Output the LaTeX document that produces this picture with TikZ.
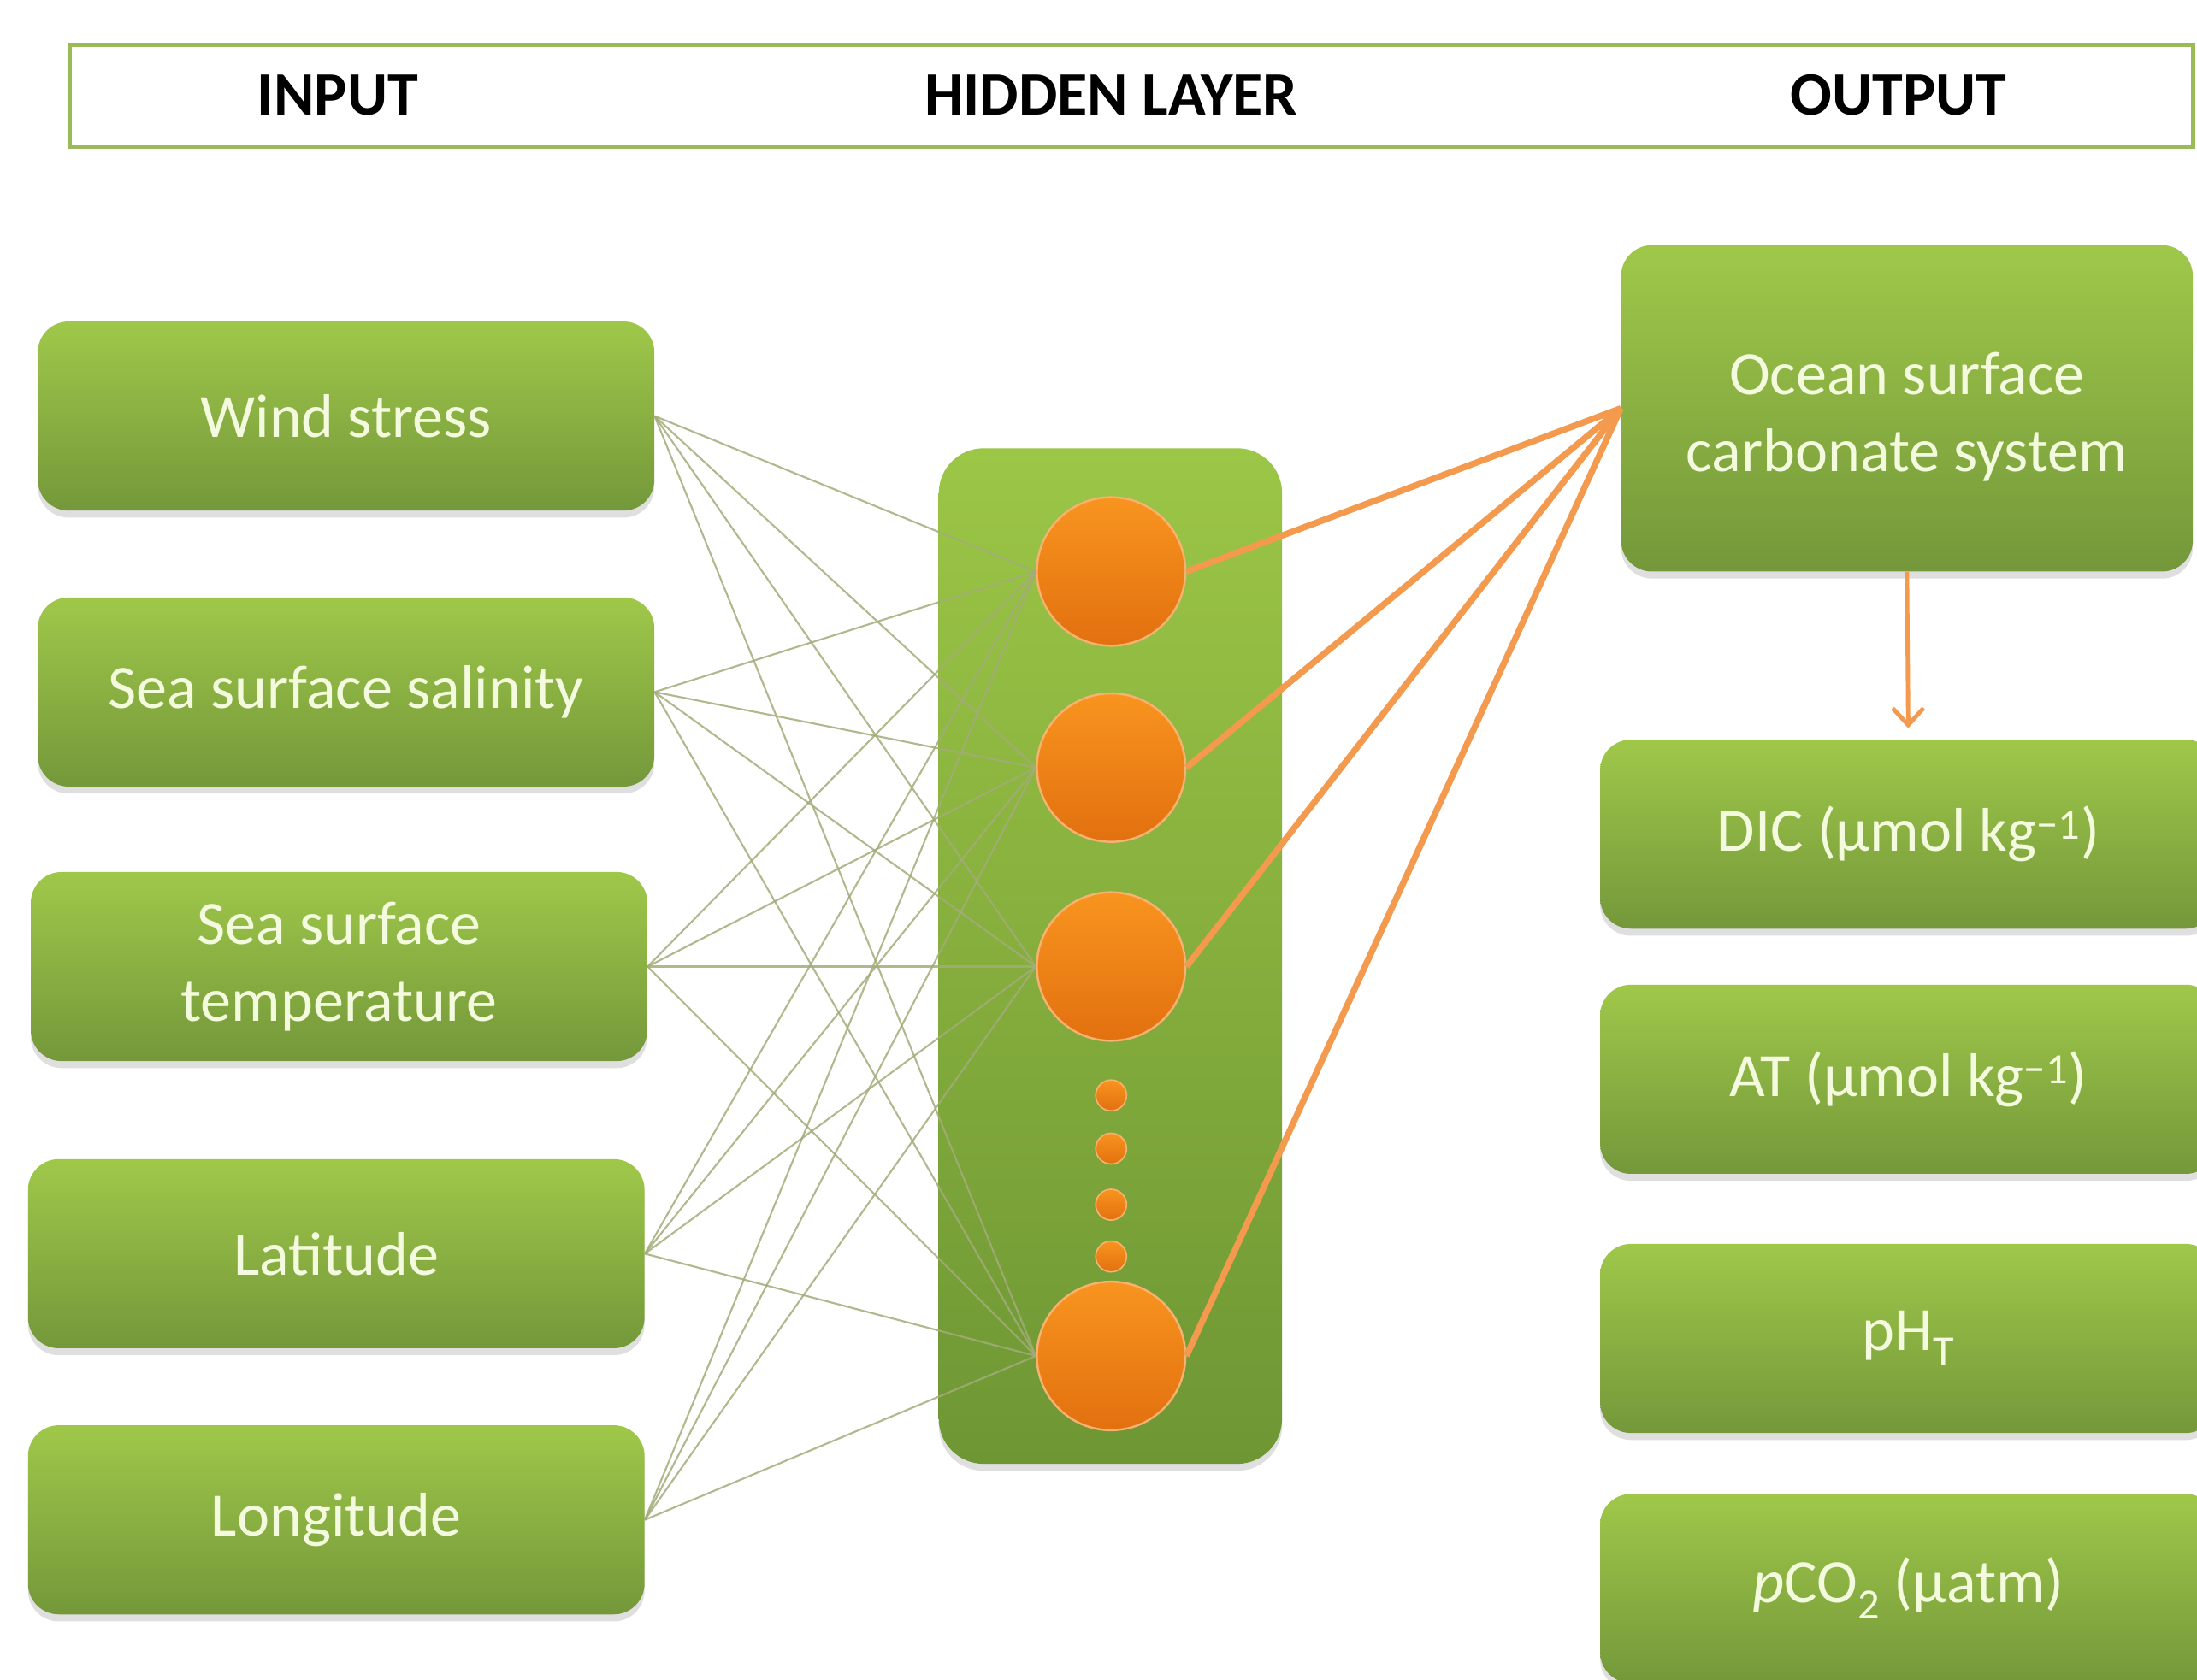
\documentclass[tikz,border=0pt]{standalone}
\usepackage{fontspec}
\setmainfont{Carlito}
\usepackage{tikz}
\usetikzlibrary{shadows,arrows.meta}
\definecolor{gtop}{HTML}{9FC84A}
\definecolor{gbot}{HTML}{74983A}
\definecolor{htop}{HTML}{9CC646}
\definecolor{hbot}{HTML}{6E9634}
\definecolor{otop}{HTML}{F8941F}
\definecolor{obot}{HTML}{E2700F}
\definecolor{oedge}{HTML}{F7B170}
\definecolor{oline}{HTML}{F39A4E}
\definecolor{lnk}{HTML}{A3AC7A}
\definecolor{txt}{HTML}{F3FADE}
\definecolor{hdrc}{HTML}{9BBB59}
\newcommand{\bigf}{\fontsize{44}{55}\selectfont}
\tikzstyle{box}=[rounded corners = 22pt, top color = gtop, bottom color = gbot, text = txt, font = \bigf, align = center, inner sep = 0pt, drop shadow = {shadow xshift = 0pt, shadow yshift = -5pt, opacity = .25}]
\tikzstyle{inbox}=[box, minimum width = 440pt, minimum height = 135pt]
\tikzstyle{outbox}=[box, minimum width = 440pt, minimum height = 135pt]
\tikzstyle{neuron}=[circle, top color = otop, bottom color = obot, draw = oedge, line width = 1.5pt, minimum size = 106pt, inner sep = 0pt]
\tikzstyle{dot}=[neuron, line width = 1pt, minimum size = 22pt]
\tikzstyle{link}=[draw = lnk, line width = 1.3pt, opacity = .85]
\tikzstyle{wire}=[draw = oline, line width = 4.5pt]

\begin{document}
\begin{tikzpicture}[x = 1pt, y = -1pt]
  \fill[white] (0,0) rectangle (1568,1199.3);
  \useasboundingbox (0,0) rectangle (1568,1199.3);
  % header
  \node[draw = hdrc, line width = 3pt, minimum width = 1515pt, minimum height = 73pt] (hdr) at (807.5,68.5) {};
  \node[font = \bigf\bfseries] (tin) at (241,68) {INPUT};
  \node[font = \bigf\bfseries] (thid) at (793,68) {HIDDEN LAYER};
  \node[font = \bigf\bfseries] (tout) at (1355,68) {OUTPUT};
  % inputs
  \node[inbox] (in1) at (247,297) {Wind stress};
  \node[inbox] (in2) at (247,494) {Sea surface salinity};
  \node[inbox] (in3) at (242,690) {Sea surface\\temperature};
  \node[inbox] (in4) at (240,895) {Latitude};
  \node[inbox] (in5) at (240,1085) {Longitude};
  % hidden layer
  \node[box, rounded corners = 32pt, top color = htop, bottom color = hbot, minimum width = 245pt, minimum height = 725pt] (hid) at (792.5,682.5) {};
  \node[neuron] (h1) at (793,408) {};
  \node[neuron] (h2) at (793,548) {};
  \node[neuron] (h3) at (793,690) {};
  \node[neuron] (h4) at (793,968) {};
  \node[dot] (d1) at (793,782) {};
  \node[dot] (d2) at (793,820) {};
  \node[dot] (d3) at (793,860) {};
  \node[dot] (d4) at (793,897) {};
  % outputs
  \node[box, minimum width = 408pt, minimum height = 233pt] (ocean) at (1361,291.5) {\rule{0pt}{42pt}Ocean surface\\carbonate system};
  \node[outbox] (dic) at (1362,595.5) {DIC (µmol kg\textsuperscript{−1})};
  \node[outbox] (at) at (1362,770.5) {AT (µmol kg\textsuperscript{−1})};
  \node[outbox] (ph) at (1362,955.5) {pH\textsubscript{T}};
  \node[outbox] (pco) at (1362,1134) {\textit{p}CO\textsubscript{2} (µatm)};
  % connections
  \foreach \i in {1,...,5}
    \foreach \j in {1,...,4}
      \draw[link] (in\i.east) -- (h\j.west);
  \foreach \j in {1,...,4}
    \draw[wire] (h\j.east) -- (ocean.west);
  \draw[draw = oline, line width = 3pt, -{Straight Barb[length = 12pt, width = 22pt]}, shorten > = 8pt] (ocean.south) -- (dic.north);
\end{tikzpicture}
\end{document}
